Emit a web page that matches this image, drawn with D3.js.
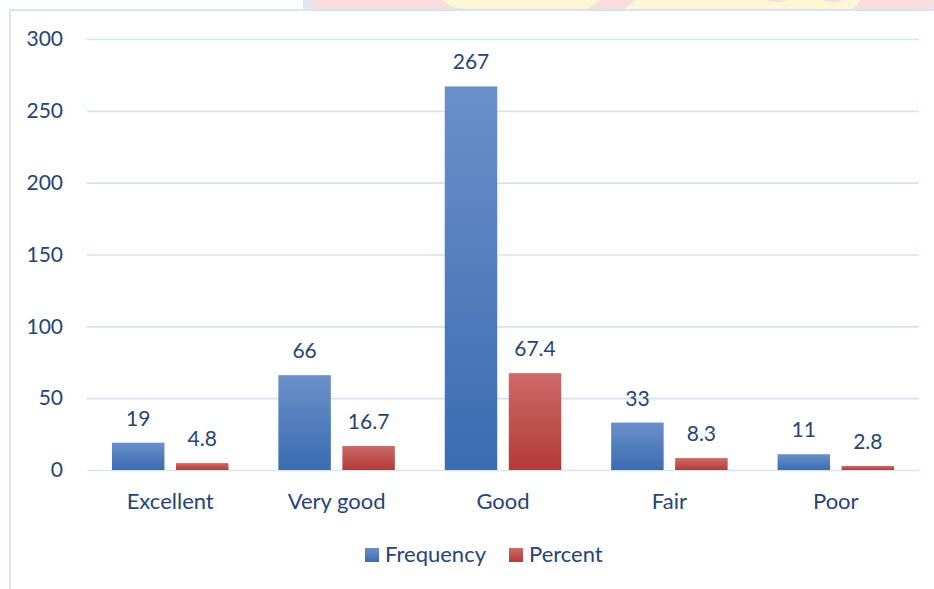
<!DOCTYPE html>
<html>
<head>
<meta charset="utf-8">
<script src="https://cdn.jsdelivr.net/npm/d3@7"></script>
<style>
  html, body { margin: 0; padding: 0; background: #fff; }
  svg { display: block; }
  text { font-family: Lato, "Open Sans", sans-serif; fill: #264478; }
</style>
</head>
<body>
<svg id="chart" width="934" height="589"></svg>
<script>
const categories = ["Excellent", "Very good", "Good", "Fair", "Poor"];
const seriesNames = ["Frequency", "Percent"];
const frequency = [19, 66, 267, 33, 11];
const percent = [4.8, 16.7, 67.4, 8.3, 2.8];
const yTicks = [0, 50, 100, 150, 200, 250, 300];

const seriesValues = { Frequency: frequency, Percent: percent };
const seriesColors = {
  Frequency: ["#6b90c8", "#3a6cb2"],
  Percent: ["#cb6b69", "#b43a37"]
};

const W = 934, H = 589;
const svg = d3.select("#chart");
const defs = svg.append("defs");
seriesNames.forEach((s, i) => {
  const g = defs.append("linearGradient").attr("id", "grad" + i)
    .attr("x1", 0).attr("y1", 0).attr("x2", 0).attr("y2", 1);
  g.append("stop").attr("offset", "0%").attr("stop-color", seriesColors[s][0]);
  g.append("stop").attr("offset", "100%").attr("stop-color", seriesColors[s][1]);
});

// faint background strip at the top (decoration from the source image)
const deco = svg.append("g");
deco.append("rect").attr("x", 303).attr("y", 0).attr("width", 631).attr("height", 10).attr("fill", "#e3e6ee");
deco.append("rect").attr("x", 311).attr("y", 0).attr("width", 620).attr("height", 10).attr("fill", "#f9dcdc");
deco.append("path").attr("d", "M442,0 L600,0 C595,4 590,7 585,10 L468,10 C455,8 445,5 442,0 Z").attr("fill", "#fdf7d6");
deco.append("path").attr("d", "M635,0 L860,0 C858,4 856,7 850,10 L625,10 C628,6 631,3 635,0 Z").attr("fill", "#fdf7d6");
deco.append("path").attr("d", "M767,0 C772,3 782,3 787,0 Z M823,0 C828,3 838,3 843,0 Z").attr("fill", "#f9dcdc");

// chart area border
svg.append("rect").attr("x", 10).attr("y", 10).attr("width", W + 20).attr("height", H + 20)
  .attr("fill", "#fff").attr("stroke", "#d9e4f2").attr("stroke-width", 2);

const plotLeft = 87, plotRight = 919;
const y = d3.scaleLinear().domain([0, 300]).range([470, 39]);
const x0 = d3.scaleBand().domain(categories).range([plotLeft, plotRight]).paddingInner(0).paddingOuter(0);
const x1 = d3.scaleBand().domain(seriesNames).range([0, x0.bandwidth()]).paddingInner(0.18).paddingOuter(0.39);

// gridlines
const yAxis = d3.axisLeft(y).tickValues(yTicks).tickSize(-(plotRight - plotLeft)).tickPadding(24).tickFormat(d3.format("d"));
const ga = svg.append("g").attr("transform", `translate(${plotLeft},0)`).call(yAxis);
ga.select(".domain").remove();
ga.selectAll(".tick line").attr("stroke", "#d6e3f3").attr("stroke-width", 1.6);
ga.selectAll(".tick text").attr("font-size", 21).attr("fill", "#264478")
  .attr("font-family", "Lato, 'Open Sans', sans-serif");

// bars
const groups = svg.append("g").selectAll("g").data(categories).join("g")
  .attr("transform", d => `translate(${x0(d)},0)`);

seriesNames.forEach((s, si) => {
  groups.append("rect")
    .attr("x", x1(s))
    .attr("y", (d, i) => y(seriesValues[s][i]))
    .attr("width", x1.bandwidth())
    .attr("height", (d, i) => y(0) - y(seriesValues[s][i]))
    .attr("fill", `url(#grad${si})`);
  groups.append("text")
    .attr("x", x1(s) + x1.bandwidth() / 2)
    .attr("y", (d, i) => y(seriesValues[s][i]) - 17)
    .attr("text-anchor", "middle")
    .attr("font-size", 21)
    .text((d, i) => seriesValues[s][i]);
});

// x axis labels
const xAxis = d3.axisBottom(x0).tickSize(0).tickPadding(0);
const gx = svg.append("g").attr("transform", `translate(0,${y(0)})`).call(xAxis);
gx.select(".domain").remove();
gx.selectAll(".tick text").attr("font-size", 22).attr("fill", "#264478")
  .attr("font-family", "Lato, 'Open Sans', sans-serif")
  .attr("dy", null).attr("y", 39);

// legend
const legendItems = [
  { name: "Frequency", x: 365, idx: 0 },
  { name: "Percent", x: 509, idx: 1 }
];
const lg = svg.append("g");
legendItems.forEach(it => {
  lg.append("rect").attr("x", it.x).attr("y", 548).attr("width", 14).attr("height", 14)
    .attr("fill", `url(#grad${it.idx})`);
  lg.append("text").attr("x", it.x + 20).attr("y", 562).attr("font-size", 22).text(it.name);
});
</script>
</body>
</html>
